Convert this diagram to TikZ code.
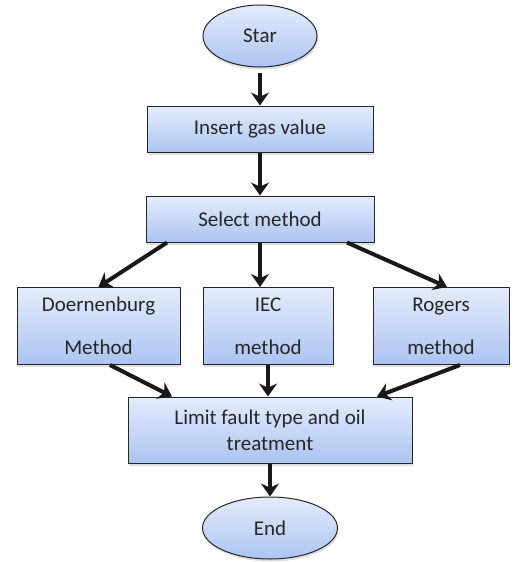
\documentclass[tikz,border=0pt]{standalone}
\usepackage{fontspec}
\setmainfont{Carlito}
\usetikzlibrary{shapes.geometric,arrows.meta,shadows}
\definecolor{boxtop}{RGB}{228,236,252}
\definecolor{boxbot}{RGB}{172,196,242}
\tikzset{
  base/.style={draw=black!85, line width=1pt, top color=boxtop, bottom color=boxbot,
    drop shadow={opacity=0.25, shadow xshift=1pt, shadow yshift=-2.5pt},
    font=\fontsize{21}{26}\selectfont, text=black!85, align=center, inner sep=0pt},
  procbox/.style={base, rectangle},
  termnode/.style={base, ellipse},
  flow/.style={line width=4pt, -{Stealth[length=13pt,width=18pt]}, black!90}
}
\begin{document}
\begin{tikzpicture}[x=1pt,y=-1pt]
\useasboundingbox (0,0) rectangle (519,562);
\node[termnode, minimum width=114pt, minimum height=62pt] (star) at (260,36) {Star};
\node[procbox, minimum width=226pt, minimum height=46pt] (insert) at (260,129) {Insert gas value};
\node[procbox, minimum width=228pt, minimum height=46pt] (select) at (260,219) {Select method};
\node[procbox, minimum width=163pt, minimum height=77pt] (doer) at (98.5,326) {Doernenburg\\[17pt]Method};
\node[procbox, minimum width=130pt, minimum height=77pt] (iec) at (268,326) {IEC\\[17pt]method};
\node[procbox, minimum width=136pt, minimum height=77pt] (rogers) at (441,326) {Rogers\\[17pt]method};
\node[procbox, minimum width=284pt, minimum height=66pt] (limit) at (270,430) {Limit fault type and oil\\treatment};
\node[termnode, minimum width=135pt, minimum height=62pt] (end) at (270,528) {End};
\draw[flow] ([yshift=-5pt]star.south) -- (insert.north);
\draw[flow] (insert.south) -- (select.north);
\draw[flow] ([xshift=-93pt]select.south) -- (doer.north);
\draw[flow] (select.south) -- (select.south |- iec.north);
\draw[flow] ([xshift=87pt]select.south) -- ([xshift=6pt]rogers.north);
\draw[flow] ([xshift=11.5pt]doer.south) -- ([xshift=-98pt]limit.north);
\draw[flow] (iec.south) -- (iec.south |- limit.north);
\draw[flow] ([xshift=19pt]rogers.south) -- ([xshift=107pt]limit.north);
\draw[flow] (limit.south) -- (end.north);
\end{tikzpicture}
\end{document}
